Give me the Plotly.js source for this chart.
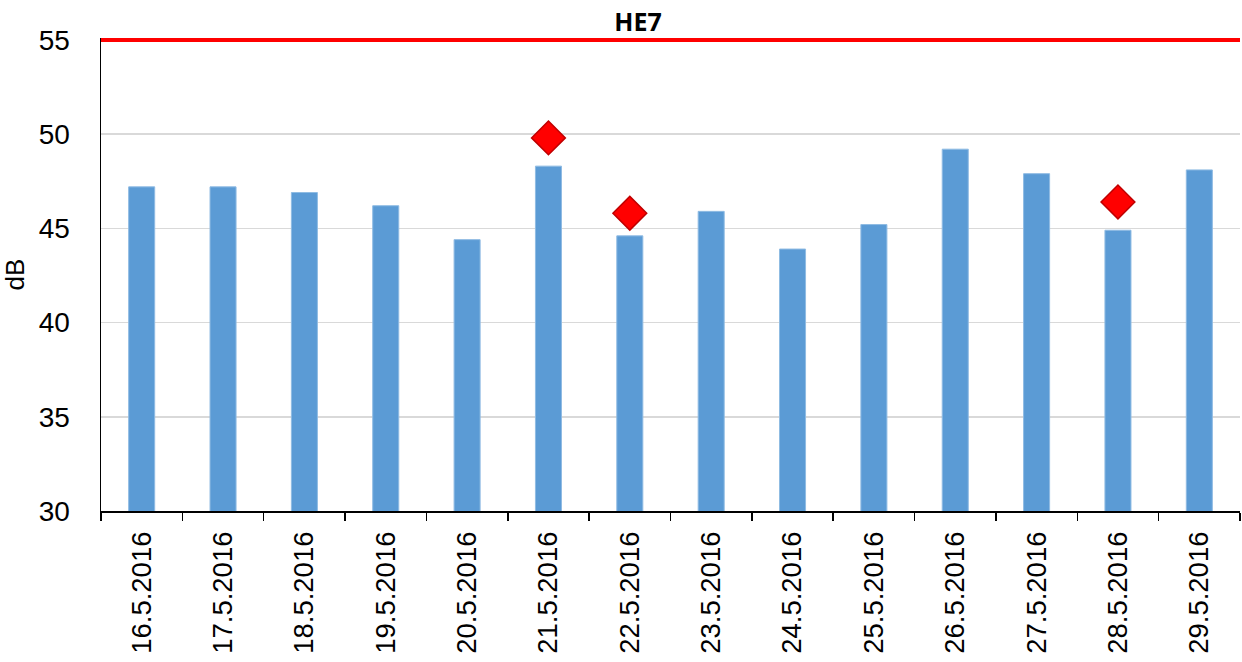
<!DOCTYPE html>
<html>
<head>
<meta charset="utf-8">
<script src="https://cdn.plot.ly/plotly-3.0.1.min.js"></script>
<style>html,body{margin:0;padding:0;background:#fff;}#chart{width:1242px;height:662px;}</style>
</head>
<body>
<div id="chart"></div>
<script>
const dates = ["16.5.2016","17.5.2016","18.5.2016","19.5.2016","20.5.2016","21.5.2016","22.5.2016","23.5.2016","24.5.2016","25.5.2016","26.5.2016","27.5.2016","28.5.2016","29.5.2016"];
const levels = [47.2,47.2,46.9,46.2,44.4,48.3,44.6,45.9,43.9,45.2,49.2,47.9,44.9,48.1];
const peakDates = ["21.5.2016","22.5.2016","28.5.2016"];
const peakValues = [49.8,45.8,46.4];
const limitValue = 55;
const chartTitle = "HE7";

const traces = [
  {type:"bar", x:dates, y:levels, marker:{color:"#5b9bd5", line:{color:"#8fbbe3", width:1}}, hoverinfo:"x+y", showlegend:false},
  {type:"scatter", mode:"markers", x:peakDates, y:peakValues, marker:{symbol:"diamond", size:26, color:"#ff0000", line:{color:"#c00000", width:1.5}}, showlegend:false}
];

const layout = {
  width:1242, height:662,
  margin:{l:101, r:2, t:38, b:151},
  paper_bgcolor:"#fff", plot_bgcolor:"#fff",
  bargap:0.68,
  title:{text:"<b>"+chartTitle+"</b>", x:638/1242, xref:"container", xanchor:"center", y:1-22/662, yref:"container", yanchor:"middle", font:{family:"Open Sans, Lato, sans-serif", size:25, color:"#000"}},
  xaxis:{type:"category", categoryorder:"array", categoryarray:dates, tickson:"boundaries", ticks:"outside", ticklen:8, tickwidth:1.5, tickcolor:"#000", showline:true, linecolor:"#000", linewidth:1.5, tickangle:-90, ticklabelstandoff:8, tickfont:{family:"Liberation Sans, Arial, sans-serif", size:27.5, color:"#000"}, showgrid:false, fixedrange:true},
  yaxis:{range:[30,55.1], tickvals:[30,35,40,45,50,55], showline:true, linecolor:"#000", linewidth:1.5, ticks:"", ticklabelstandoff:24, showgrid:true, gridcolor:"#d9d9d9", gridwidth:1.5, zeroline:false, tickfont:{family:"Liberation Sans, Arial, sans-serif", size:28, color:"#000"}, title:{text:"dB", standoff:10, font:{family:"Liberation Sans, Arial, sans-serif", size:26, color:"#000"}}, fixedrange:true},
  shapes:[{type:"line", xref:"paper", x0:0, x1:1, yref:"y", y0:limitValue, y1:limitValue, layer:"above", line:{color:"#ff0000", width:4}}]
};

Plotly.newPlot("chart", traces, layout, {displayModeBar:false, staticPlot:true});
</script>
</body>
</html>
